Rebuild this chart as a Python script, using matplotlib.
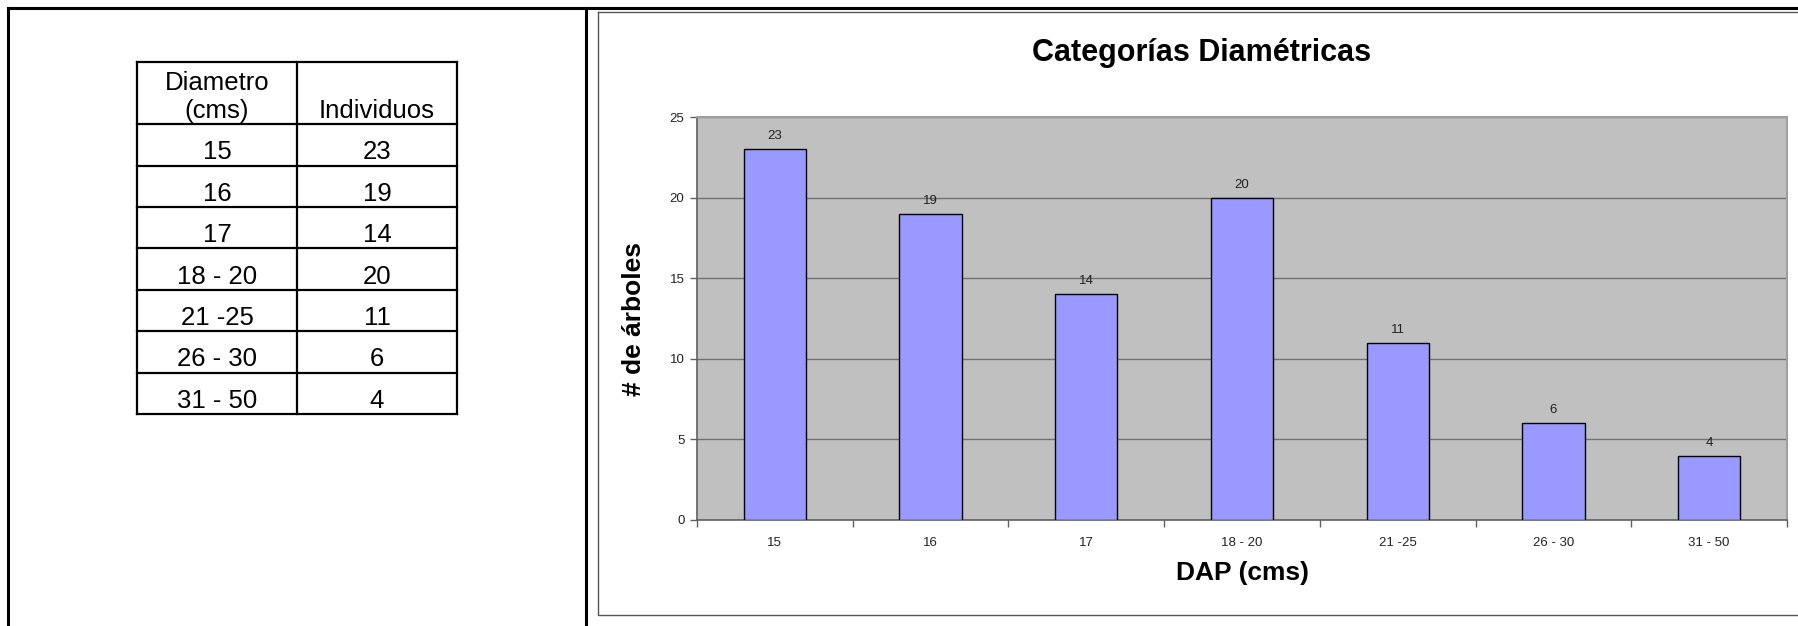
import matplotlib
matplotlib.use("Agg")
from matplotlib import pyplot as plt
from matplotlib.lines import Line2D
import numpy as np

# data
clases = ["15", "16", "17", "18 - 20", "21 -25", "26 - 30", "31 - 50"]
individuos = [23, 19, 14, 20, 11, 6, 4]
yticks = [0, 5, 10, 15, 20, 25]

W, H = 1798, 626
plt.rcParams['font.family'] = ['Liberation Sans', 'DejaVu Sans']

fig = plt.figure(figsize=(W / 100, H / 100), dpi=100)
fig.patch.set_facecolor("white")


def fx(px):
    return px / W


def fy(py):
    return 1 - py / H


def fig_line(xs, ys, lw=1.0, color="black"):
    fig.add_artist(Line2D([fx(x) for x in xs], [fy(y) for y in ys],
                          transform=fig.transFigure, lw=lw, color=color,
                          solid_capstyle="projecting"))


# outer frame of the page and the divider
fig_line([8, 8], [8, 640], lw=2.2)
fig_line([8, 1800], [8, 8], lw=2.2)
fig_line([586, 586], [8, 640], lw=2.2)

# chart box
fig_line([598, 598, 1810], [12, 615, 615], lw=1.0, color="#555555")
fig_line([598, 1810], [12, 12], lw=1.0, color="#555555")

# ---- table on the left ----
tab = fig.add_axes([fx(137), fy(414), fx(457) - fx(137), fy(62) - fy(414)])
tab.set_xlim(0, 2)
tab.set_ylim(8.5, 0)
tab.axis("off")
nrows = len(clases)
lw_t = 1.6
for x in [0, 1, 2]:
    tab.plot([x, x], [0, 8.5], color="black", lw=lw_t, clip_on=False)
for y in [0, 1.5] + [1.5 + i + 1 for i in range(nrows)]:
    tab.plot([0, 2], [y, y], color="black", lw=lw_t, clip_on=False)

fs_t = 18.5
tab.text(0.5, 0.5, "Diametro", ha="center", va="center", fontsize=fs_t)
tab.text(0.5, 1.35, "(cms)", ha="center", va="baseline", fontsize=fs_t)
tab.text(1.5, 1.35, "Individuos", ha="center", va="baseline", fontsize=fs_t)
for i, (c, v) in enumerate(zip(clases, individuos)):
    yb = 1.5 + i + 1 - 0.15
    tab.text(0.5, yb, c, ha="center", va="baseline", fontsize=fs_t)
    tab.text(1.5, yb, str(v), ha="center", va="baseline", fontsize=fs_t)

# ---- bar chart ----
ax = fig.add_axes([fx(697), fy(520), fx(1787) - fx(697), fy(117) - fy(520)])
ax.set_facecolor("#c0c0c0")
x = np.arange(len(clases))
bars = ax.bar(x, individuos, width=0.4, color="#9999ff", edgecolor="black",
              linewidth=1.0, zorder=3)
for b, v in zip(bars, individuos):
    ax.annotate(str(v), (b.get_x() + b.get_width() / 2, v),
                xytext=(0, 5), textcoords="offset points",
                ha="center", va="bottom", fontsize=9.5, color="#222222")

ax.set_xlim(-0.5, len(clases) - 0.5)
ax.set_ylim(0, 25)
ax.set_yticks(yticks)
ax.yaxis.grid(True, color="#707070", lw=1.0, zorder=1)
ax.set_axisbelow(True)

ax.set_xticks(x)
ax.set_xticklabels(clases, fontsize=9.5, color="#222222")
ax.set_xticks(np.arange(-0.5, len(clases)), minor=True)
ax.tick_params(axis="x", which="major", length=0, pad=12)
ax.tick_params(axis="x", which="minor", length=5, width=1, color="#606060",
               direction="out")
ax.tick_params(axis="y", length=5, width=1, color="#606060", pad=4,
               labelsize=9.5, labelcolor="#222222")

for s in ["left", "bottom"]:
    ax.spines[s].set_color("#606060")
    ax.spines[s].set_linewidth(1.2)
for s in ["top", "right"]:
    ax.spines[s].set_color("#a0a0a0")
    ax.spines[s].set_linewidth(1.5)

ax.set_ylabel("# de árboles", fontsize=19, fontweight="bold", labelpad=17)
ax.set_xlabel("DAP (cms)", fontsize=19, fontweight="bold", labelpad=9)

fig.text(fx(1202), fy(53), "Categorías Diamétricas", ha="center", va="center",
         fontsize=22, fontweight="bold")

fig.savefig("out.png", dpi=100)
